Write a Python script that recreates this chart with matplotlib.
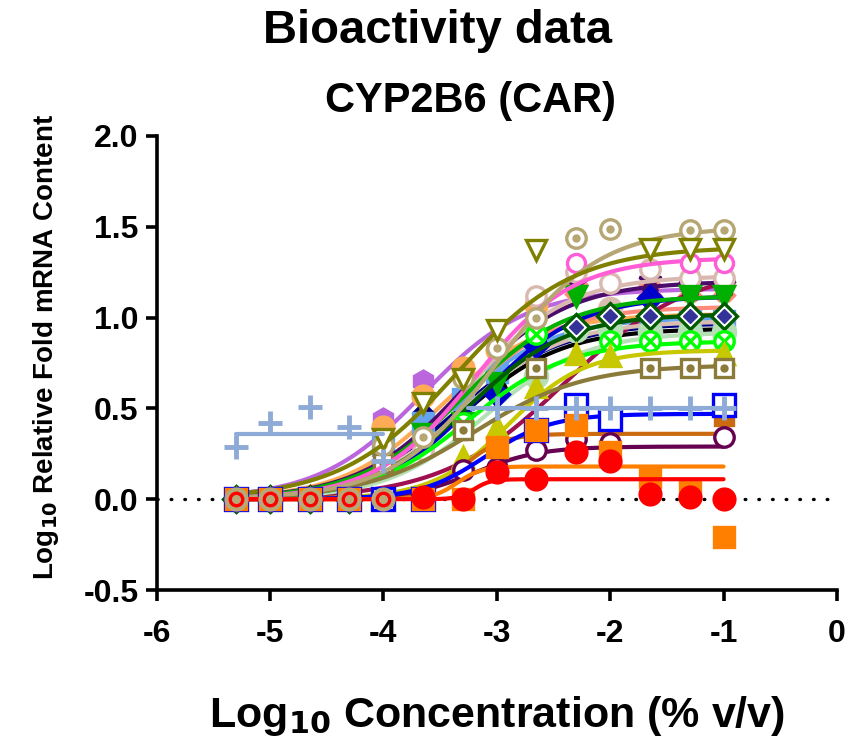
import numpy as np
import matplotlib
matplotlib.use("Agg")
from matplotlib import pyplot as plt

plt.rcParams['font.family'] = ['Liberation Sans', 'DejaVu Sans']
plt.rcParams['font.weight'] = 'bold'
plt.rcParams['mathtext.default'] = 'bf'

n = np.nan

# log10 concentration (% v/v) of the dilution series
log_conc = [-5.3, -5.0, -4.65, -4.3, -4.0, -3.65, -3.3, -3.0, -2.65, -2.3, -2.0, -1.65, -1.3, -1.0]

# measured responses (log10 relative fold mRNA), one list per sample
orchid_hex = [0, 0, 0, 0, 0.44, 0.65, 0.72, n, n, n, n, n, n, n]
light_orange = [0, 0, 0, 0, 0.40, 0.57, 0.72, 0.82, 1.07, n, n, n, n, n]
navy_x = [0, 0, 0, 0, 0.33, 0.45, 0.53, n, 0.70, n, n, n, n, n]
cornflower_sq = [0, 0, 0, 0, 0.30, 0.42, 0.55, 0.70, n, n, n, 0.98, 0.98, 0.98]
black_dot = [0, 0, 0, 0, n, n, n, 0.60, 0.86, n, n, n, n, n]
salmon_x = [0, 0, 0, 0, n, n, n, n, n, 1.16, n, 1.15, 1.15, 1.15]
maroon_p = [0, 0, 0, 0, n, n, 0.38, n, n, n, 0.90, n, n, n]
dkpurple_star = [0, 0, 0, 0, n, n, n, n, n, 1.19, n, 1.20, 1.18, 1.18]
rosy_fill = [0, 0, 0, 0, n, n, n, n, n, n, 1.05, n, n, n]
rosy_ring = [0, 0, 0, 0, n, 0.27, n, n, 1.12, 1.25, 1.19, 1.27, 1.22, 1.22]
light_green = [0, 0, 0, 0, n, n, n, n, 0.68, 0.93, 0.93, 0.92, 0.92, 0.92]
blue_diamond = [0, 0, 0, 0, n, n, n, 0.58, 0.85, n, n, 1.11, n, n]
green_tri = [0, 0, 0, 0, n, 0.36, 0.42, 0.64, n, 1.12, n, n, 1.12, 1.12]
dkgreen_diamond = [0, 0, 0, 0, n, n, n, n, n, 0.95, 1.01, 1.01, 1.01, 1.01]
lime_x = [0, 0, 0, 0, n, n, 0.42, n, 0.91, n, 0.87, 0.87, 0.87, 0.87]
yellow_tri = [0, 0, 0, 0, n, n, 0.23, 0.40, 0.62, 0.80, 0.79, n, n, 0.80]
olive_sq = [0, 0, 0, 0, 0.20, n, 0.38, n, 0.72, n, n, 0.72, 0.72, 0.72]
pink_ring = [0, 0, 0, 0, n, n, n, n, n, 1.30, n, n, 1.30, 1.30]
tan_dot = [0, 0, 0, 0, 0.30, 0.34, 0.67, 0.83, 1.00, 1.44, 1.49, n, 1.48, 1.48]
olive_tri = [0, 0, 0, 0, 0.33, 0.53, 0.66, 0.93, 1.37, n, n, 1.38, 1.38, 1.38]
brown_sq = [0, 0, 0, 0, n, n, n, n, n, n, n, n, n, 0.46]
purple_ring = [0, 0, 0, 0, n, n, 0.16, 0.17, 0.27, 0.33, 0.31, 0.12, n, 0.34]
blue_sq = [0, 0, 0, 0, 0, 0, n, n, 0.38, 0.52, 0.44, n, n, 0.52]
orange_sq = [0, 0, 0, 0, n, 0, 0, 0.29, 0.38, 0.41, 0.26, 0.12, 0.05, -0.21]
red_dot = [n, n, n, n, n, 0.01, 0.0, 0.15, 0.11, 0.26, 0.21, 0.03, 0.01, 0.0]
plus_left = [0.29, 0.42, 0.51, 0.40, 0.21, n, n, n, n, n, n, n, n, n]
plus_right = [n, n, n, n, n, n, n, 0.50, 0.50, 0.50, 0.50, 0.50, 0.50, 0.50]
tan_disk = [0, 0, 0, 0, 0, n, n, n, n, n, n, n, n, n]
red_ring = [0, 0, 0, 0, 0, n, n, n, n, n, n, n, n, n]

# fitted curves: bottom, top, logEC50, hill slope, x from, x to
fits = {
    'orchid_hex': (0, 1.16, -3.65, 0.95, -5.3, -1.0),
    'light_orange': (0, 1.02, -3.50, 1.0, -5.3, -1.0),
    'navy_x': (0, 0.97, -3.35, 0.95, -5.3, -1.0),
    'cornflower_sq': (0, 1.00, -3.40, 1.0, -5.3, -1.0),
    'black_dot': (0, 0.94, -3.30, 1.0, -5.3, -1.0),
    'salmon_x': (0, 1.06, -3.35, 1.0, -5.3, -1.0),
    'maroon_p': (0, 1.28, -2.40, 0.8, -5.3, -1.0),
    'dkpurple_star': (0, 1.20, -3.30, 0.95, -5.3, -1.0),
    'rosy_fill': (0, 0.98, -3.30, 1.0, -5.3, -1.0),
    'rosy_ring': (0, 1.23, -3.25, 1.0, -5.3, -1.0),
    'light_green': (0, 0.92, -3.10, 1.0, -5.3, -1.0),
    'blue_diamond': (0, 1.12, -3.15, 1.0, -5.3, -1.0),
    'green_tri': (0, 1.12, -3.30, 0.95, -5.3, -1.0),
    'dkgreen_diamond': (0, 1.02, -3.25, 1.0, -5.3, -1.0),
    'lime_x': (0, 0.87, -3.25, 1.0, -5.3, -1.0),
    'yellow_tri': (0, 0.82, -2.90, 1.3, -5.3, -1.0),
    'olive_sq': (0, 0.74, -3.20, 0.9, -5.3, -1.0),
    'pink_ring': (0, 1.33, -3.20, 1.0, -5.3, -1.0),
    'tan_dot': (0, 1.50, -3.00, 0.95, -5.3, -1.0),
    'olive_tri': (0, 1.39, -3.35, 0.85, -5.3, -1.0),
    'brown_sq': (0, 0.36, -3.30, 2.5, -5.3, -1.0),
    'purple_ring': (0, 0.29, -3.20, 1.5, -5.3, -1.0),
    'blue_sq': (0, 0.47, -3.10, 1.5, -5.3, -1.0),
    'orange_sq': (0, 0.18, -3.35, 4.0, -5.3, -1.0),
    'red_dot': (0, 0.11, -3.20, 6.0, -5.3, -1.0),
    'plus_left': (0.36, 0.36, -4.5, 1.0, -5.3, -4.0),
    'plus_right': (0.50, 0.50, -2.0, 1.0, -3.25, -1.0),
}

data = {
    'orchid_hex': orchid_hex, 'light_orange': light_orange, 'navy_x': navy_x,
    'cornflower_sq': cornflower_sq, 'black_dot': black_dot, 'salmon_x': salmon_x,
    'maroon_p': maroon_p, 'dkpurple_star': dkpurple_star, 'rosy_fill': rosy_fill,
    'rosy_ring': rosy_ring, 'light_green': light_green, 'blue_diamond': blue_diamond,
    'green_tri': green_tri, 'dkgreen_diamond': dkgreen_diamond, 'lime_x': lime_x,
    'yellow_tri': yellow_tri, 'olive_sq': olive_sq, 'pink_ring': pink_ring,
    'tan_dot': tan_dot, 'olive_tri': olive_tri, 'brown_sq': brown_sq,
    'purple_ring': purple_ring, 'blue_sq': blue_sq, 'orange_sq': orange_sq,
    'red_dot': red_dot, 'plus_left': plus_left, 'plus_right': plus_right,
    'tan_disk': tan_disk, 'red_ring': red_ring,
}

# color, marker, face ('fill', 'white' or 'none'), markersize
styles = {
    'orchid_hex': ('#BB66DD', 'h', 'fill', 15),
    'light_orange': ('#FFAA55', 'o', 'fill', 15),
    'navy_x': ('#000080', 'X', 'fill', 13),
    'cornflower_sq': ('#66A3EE', 's', 'fill', 14),
    'black_dot': ('#000000', 'o', 'fill', 13),
    'salmon_x': ('#FF8A7A', 'X', 'fill', 15),
    'maroon_p': ('#A0104E', 'P', 'fill', 13),
    'dkpurple_star': ('#4B0B6B', '*', 'fill', 17),
    'rosy_fill': ('#D9BDB0', 'o', 'fill', 16),
    'rosy_ring': ('#D9B8B0', 'o', 'white', 14),
    'light_green': ('#B5E0B5', 'o', 'fill', 16),
    'blue_diamond': ('#0000CC', 'D', 'fill', 12),
    'green_tri': ('#00B000', 'v', 'fill', 15),
    'dkgreen_diamond': ('#005A00', 'D', 'white', 13),
    'lime_x': ('#00FF00', 'o', 'white', 14),
    'yellow_tri': ('#C8C800', '^', 'fill', 15),
    'olive_sq': ('#8B7B3A', 's', 'white', 13),
    'pink_ring': ('#FF5CD6', 'o', 'white', 13),
    'tan_dot': ('#B5A673', 'o', 'white', 14),
    'olive_tri': ('#808000', 'v', 'white', 14),
    'brown_sq': ('#CC6A10', 's', 'fill', 13),
    'purple_ring': ('#660050', 'o', 'white', 14),
    'blue_sq': ('#0000FF', 's', 'white', 16),
    'orange_sq': ('#FF8000', 's', 'fill', 14),
    'red_dot': ('#FF0000', 'o', 'fill', 15),
    'plus_left': ('#8EAAD6', '+', 'white', 17),
    'plus_right': ('#8EAAD6', '+', 'white', 17),
    'tan_disk': ('#B8A878', 'o', 'fill', 15),
    'red_ring': ('#FF0000', 'o', 'none', 9),
}


def four_pl(x, bottom, top, ec50, hill):
    return bottom + (top - bottom) / (1 + 10 ** ((ec50 - x) * hill))


fig = plt.figure(figsize=(8.61, 7.39), dpi=100)
ax = fig.add_axes([0.182, 0.2016, 0.79, 0.6144])

ax.plot([-6, 0], [0, 0], color='black', lw=2.4, ls=(0, (0.2, 3.9)),
        dash_capstyle='round', zorder=1)

z = 2
for name, ys in data.items():
    color, marker, face, ms = styles[name]
    if name in fits:
        bottom, top, ec50, hill, x0, x1 = fits[name]
        xs = np.linspace(x0, x1, 200)
        ax.plot(xs, four_pl(xs, bottom, top, ec50, hill), color=color, lw=3,
                solid_capstyle='round', zorder=z)
    mew = 3.5 if marker == '+' else 2.4
    mfc = color if face == 'fill' else face
    ax.plot(log_conc, ys, ls='none', marker=marker, ms=ms, mew=mew,
            mec=color, mfc=mfc, zorder=z + 0.5)
    if name == 'tan_dot' or name == 'olive_sq':
        ax.plot(log_conc, ys, ls='none', marker='o', ms=5, mec=color,
                mfc=color, zorder=z + 0.6)
    if name == 'lime_x':
        ax.plot(log_conc, ys, ls='none', marker='x', ms=9, mew=2.4,
                mec=color, zorder=z + 0.6)
    if name == 'dkgreen_diamond':
        ax.plot(log_conc, ys, ls='none', marker='D', ms=7, mec='#333399',
                mfc='#333399', zorder=z + 0.6)
    z += 1

ax.set_xlim(-6, 0)
ax.set_ylim(-0.5, 2.0)
ax.set_xticks(range(-6, 1))
ax.set_yticks([-0.5, 0.0, 0.5, 1.0, 1.5, 2.0])
ax.set_yticklabels(['-0.5', '0.0', '0.5', '1.0', '1.5', '2.0'])
ax.set_xticklabels([str(v) for v in range(-6, 1)])
for side in ['top', 'right']:
    ax.spines[side].set_visible(False)
for side in ['left', 'bottom']:
    ax.spines[side].set_linewidth(2.6)
ax.tick_params(axis='both', direction='out', length=8, width=2.6,
               labelsize=23, pad=5)
ax.tick_params(axis='x', pad=13)
for lab in ax.get_xticklabels() + ax.get_yticklabels():
    lab.set_fontweight('bold')

ax.set_xlabel(r'Log$_{10}$ Concentration (% v/v)', fontsize=31,
              fontweight='bold', labelpad=32)
ax.set_ylabel(r'Log$_{10}$ Relative Fold mRNA Content', fontsize=20,
              fontweight='bold')
ax.yaxis.set_label_coords(-0.14, 0.535)

fig.text(0.508, 0.958, 'Bioactivity data', fontsize=34, fontweight='bold',
         ha='center', va='center')
fig.text(0.547, 0.864, 'CYP2B6 (CAR)', fontsize=30, fontweight='bold',
         ha='center', va='center')

fig.savefig('out.png', dpi=100)
